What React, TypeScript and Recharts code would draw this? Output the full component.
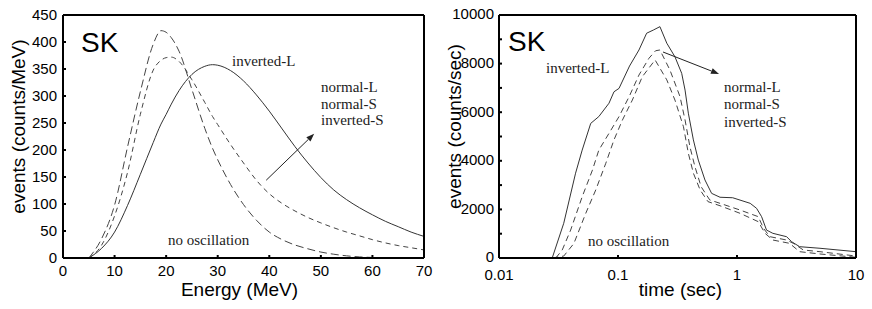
import { LineChart, Line, XAxis, YAxis, ReferenceLine, Label } from 'recharts';

// left panel: energy spectrum (counts/MeV)
const energy = [5, 7.5, 10, 12.5, 15, 17.5, 19, 20, 21, 22.5, 25, 27.5, 29, 30, 32.5, 35, 37.5, 40, 42.5, 45, 47.5, 50, 52.5, 55, 57.5, 60, 62.5, 65, 67.5, 70];
const specInvertedL = [0, 18, 48, 97, 155, 214, 248, 266, 285, 310, 340, 355, 358, 357, 347, 328, 302, 272, 239, 206, 176, 149, 126, 108, 93, 80, 68, 58, 48, 40];
const specNormal = [0, 24, 78, 158, 266, 348, 366, 371, 372, 364, 330, 288, 262, 247, 210, 176, 144, 119, 101, 87, 75, 65, 56, 48, 41, 34, 28, 23, 19, 15];
const specNoOsc = [0, 36, 98, 205, 308, 396, 421, 418, 408, 383, 312, 240, 203, 182, 136, 99, 70, 48, 34, 24, 17, 11, 7, 4, 2, 1, 0, 0, 0, 0];

const energyTicks = [0, 10, 20, 30, 40, 50, 60, 70];
const spectrumTicks = [0, 50, 100, 150, 200, 250, 300, 350, 400, 450];

// right panel: time profile (counts/sec)
const invLTime = [0.028, 0.035, 0.044, 0.05, 0.059, 0.069, 0.084, 0.0925, 0.102, 0.125, 0.15, 0.174, 0.198, 0.225, 0.257, 0.301, 0.343, 0.366, 0.39, 0.43, 0.473, 0.538, 0.612, 0.72, 0.92, 1.29, 1.46, 1.61, 1.77, 2.0, 2.61, 2.88, 3.36, 4.98, 10];
const invLRate = [0, 1430, 3490, 4440, 5540, 5820, 6370, 6840, 6980, 7900, 8560, 9250, 9380, 9520, 8840, 8280, 7600, 6910, 5960, 4860, 4030, 3210, 2660, 2500, 2480, 2250, 2045, 1700, 1150, 1016, 877, 670, 465, 400, 260];
const normTime = [0.03, 0.034, 0.04, 0.05, 0.061, 0.069, 0.084, 0.102, 0.124, 0.15, 0.182, 0.207, 0.225, 0.273, 0.332, 0.366, 0.402, 0.443, 0.5, 0.59, 0.72, 1.06, 1.51, 1.67, 1.89, 2.61, 2.97, 3.61, 4.98, 10];
const normRate = [0, 330, 1150, 2520, 3620, 4440, 5130, 5820, 6640, 7530, 8220, 8530, 8560, 7740, 6640, 5680, 4580, 3760, 2930, 2390, 2250, 1975, 1700, 1220, 877, 740, 605, 330, 260, 80];
const noOscTime = [0.028, 0.035, 0.0426, 0.0536, 0.065, 0.079, 0.0925, 0.109, 0.132, 0.16, 0.205, 0.257, 0.301, 0.355, 0.39, 0.43, 0.49, 0.57, 0.72, 1.06, 1.51, 1.72, 2.0, 2.76, 3.36, 4.98, 10];
const noOscRate = [0, 80, 600, 1840, 2800, 3900, 4860, 5680, 6500, 7460, 8150, 7330, 6500, 5400, 4310, 3490, 2800, 2320, 2150, 1840, 1494, 1016, 740, 605, 260, 165, 30];

const timeTicks = [0.01, 0.1, 1, 10];
const timeMinorTicks = [0.01, 0.02, 0.03, 0.04, 0.05, 0.06, 0.07, 0.08, 0.09, 0.1, 0.2, 0.3, 0.4, 0.5, 0.6, 0.7, 0.8, 0.9, 1, 2, 3, 4, 5, 6, 7, 8, 9, 10];
const rateTicks = [0, 1000, 2000, 3000, 4000, 5000, 6000, 7000, 8000, 9000, 10000];

const spectrumData = energy.map((e, i) => ({
  e,
  invL: specInvertedL[i],
  norm: specNormal[i],
  noOsc: specNoOsc[i],
}));

const toPoints = (ts: number[], vs: number[]) => ts.map((t, i) => ({ t, v: vs[i] }));

const SANS = '"Liberation Sans", Arial, sans-serif';
const SERIF = '"Liberation Serif", "Times New Roman", serif';
const frame = { stroke: '#000', strokeWidth: 2 };
const tickFont = { fill: '#000', fontSize: 15, fontFamily: SANS };

const YTitle = ({ viewBox, text }: any) => {
  const cx = viewBox.x + 18;
  const cy = viewBox.y + viewBox.height / 2 - 10;
  return (
    <text x={cx} y={cy} transform={`rotate(-90 ${cx} ${cy})`} textAnchor="middle"
      dominantBaseline="central" fontSize={19} fontFamily={SANS} fill="#000">
      {text}
    </text>
  );
};

const XTitle = ({ viewBox, text, dx }: any) => (
  <text x={viewBox.x + viewBox.width / 2 + dx} y={viewBox.y + 38} textAnchor="middle"
    fontSize={19} fontFamily={SANS} fill="#000">
    {text}
  </text>
);

const Arrow = (props: any) => {
  const { x1, y1, x2, y2 } = props;
  const a = Math.atan2(y2 - y1, x2 - x1);
  const bx = x2 - 8 * Math.cos(a);
  const by = y2 - 8 * Math.sin(a);
  const w = 3;
  return (
    <g>
      <line x1={x1} y1={y1} x2={bx} y2={by} stroke="#222" strokeWidth={1} />
      <polygon
        points={`${x2},${y2} ${bx + w * Math.sin(a)},${by - w * Math.cos(a)} ${bx - w * Math.sin(a)},${by + w * Math.cos(a)}`}
        fill="#222"
      />
    </g>
  );
};

const notes = [
  { text: 'SK', x: 81, y: 43, sk: true },
  { text: 'inverted-L', x: 232, y: 61 },
  { text: 'normal-L', x: 321, y: 87 },
  { text: 'normal-S', x: 321, y: 104 },
  { text: 'inverted-S', x: 321, y: 120 },
  { text: 'no oscillation', x: 168, y: 240 },
  { text: 'SK', x: 508, y: 42, sk: true },
  { text: 'inverted-L', x: 546, y: 68 },
  { text: 'normal-L', x: 724, y: 87 },
  { text: 'normal-S', x: 724, y: 104 },
  { text: 'inverted-S', x: 724, y: 122 },
  { text: 'no oscillation', x: 588, y: 241 },
];

const EnergyChart = () => (
  <LineChart width={436} height={309} data={spectrumData} margin={{ top: 14, right: 11, bottom: 11, left: 0 }}>
    <XAxis xAxisId="b" dataKey="e" type="number" domain={[0, 70]} ticks={energyTicks} allowDataOverflow
      interval={0} height={40} axisLine={frame} tickLine={frame} tickSize={-3} tickMargin={10} tick={tickFont}
      label={<Label content={(p: any) => <XTitle {...p} text="Energy (MeV)" dx={-4} />} />} />
    <XAxis xAxisId="t" orientation="top" type="number" domain={[0, 70]} ticks={energyTicks} allowDataOverflow
      interval={0} height={1} axisLine={frame} tickLine={frame} tickSize={-3} tick={false} />
    <YAxis yAxisId="l" type="number" domain={[0, 450]} ticks={spectrumTicks} allowDataOverflow interval={0}
      width={63} axisLine={frame} tickLine={frame} tickSize={-3} tickMargin={9} tick={tickFont}
      label={<Label content={(p: any) => <YTitle {...p} text="events (counts/MeV)" />} />} />
    <YAxis yAxisId="r" orientation="right" type="number" domain={[0, 450]} ticks={spectrumTicks} allowDataOverflow
      interval={0} width={1} axisLine={frame} tickLine={frame} tickSize={-3} tick={false} />
    <Line xAxisId="b" yAxisId="l" type="monotone" dataKey="invL" stroke="#333" strokeWidth={1} dot={false}
      activeDot={false} isAnimationActive={false} />
    <Line xAxisId="b" yAxisId="l" type="monotone" dataKey="norm" stroke="#444" strokeWidth={1} strokeDasharray="5 4"
      dot={false} activeDot={false} isAnimationActive={false} />
    <Line xAxisId="b" yAxisId="l" type="monotone" dataKey="noOsc" stroke="#444" strokeWidth={1} strokeDasharray="8 4"
      dot={false} activeDot={false} isAnimationActive={false} />
    <ReferenceLine xAxisId="b" yAxisId="l" segment={[{ x: 39.4, y: 144 }, { x: 48.7, y: 230 }]} shape={Arrow} />
  </LineChart>
);

const TimeChart = () => (
  <LineChart width={436} height={309} margin={{ top: 14, right: 15, bottom: 11, left: 0 }}>
    <XAxis xAxisId="b" dataKey="t" type="number" scale="log" domain={[0.01, 10]} ticks={timeTicks} allowDataOverflow
      interval={0} height={40} axisLine={frame} tickLine={frame} tickSize={-3} tickMargin={14} tick={tickFont}
      tickFormatter={(v: number) => String(v)}
      label={<Label content={(p: any) => <XTitle {...p} text="time (sec)" dx={3} />} />} />
    <XAxis xAxisId="t" orientation="top" type="number" scale="log" domain={[0.01, 10]} ticks={timeMinorTicks}
      allowDataOverflow interval={0} height={1} axisLine={frame} tickLine={frame} tickSize={-3} tick={false} />
    <YAxis yAxisId="l" type="number" domain={[0, 10000]} ticks={rateTicks} allowDataOverflow interval={0}
      width={63} axisLine={frame} tickLine={frame} tickSize={-3} tickMargin={8} tick={{ ...tickFont, dy: -1 }}
      tickFormatter={(v: number) => (v % 2000 === 0 ? String(v) : '')}
      label={<Label content={(p: any) => <YTitle {...p} text="events (counts/sec)" />} />} />
    <YAxis yAxisId="r" orientation="right" type="number" domain={[0, 10000]} ticks={rateTicks} allowDataOverflow
      interval={0} width={1} axisLine={frame} tickLine={frame} tickSize={-3} tick={false} />
    <Line xAxisId="b" yAxisId="l" data={toPoints(invLTime, invLRate)} type="linear" dataKey="v" stroke="#333"
      strokeWidth={1} dot={false} activeDot={false} isAnimationActive={false} />
    <Line xAxisId="b" yAxisId="l" data={toPoints(normTime, normRate)} type="linear" dataKey="v" stroke="#444"
      strokeWidth={1} strokeDasharray="6 4" dot={false} activeDot={false} isAnimationActive={false} />
    <Line xAxisId="b" yAxisId="l" data={toPoints(noOscTime, noOscRate)} type="linear" dataKey="v" stroke="#444"
      strokeWidth={1} strokeDasharray="6 4" dot={false} activeDot={false} isAnimationActive={false} />
    <ReferenceLine xAxisId="b" yAxisId="l" segment={[{ x: 0.239, y: 8477 }, { x: 0.706, y: 7572 }]} shape={Arrow} />
  </LineChart>
);

export default function App() {
  return (
    <div style={{ position: 'absolute', left: 0, top: 0, width: 872, height: 309, background: '#fff', overflow: 'hidden' }}>
      <div style={{ position: 'absolute', left: 0, top: 0 }}>
        <EnergyChart />
      </div>
      <div style={{ position: 'absolute', left: 436, top: 0 }}>
        <TimeChart />
      </div>
      {notes.map((n, i) => (
        <div
          key={i}
          style={{
            position: 'absolute',
            left: n.x,
            top: n.y - (n.sk ? 14 : 8),
            fontFamily: n.sk ? SANS : SERIF,
            fontSize: n.sk ? 28 : 15,
            lineHeight: n.sk ? '28px' : '16px',
            color: n.sk ? '#000' : '#222',
            whiteSpace: 'nowrap',
            pointerEvents: 'none',
          }}
        >
          {n.text}
        </div>
      ))}
    </div>
  );
}
